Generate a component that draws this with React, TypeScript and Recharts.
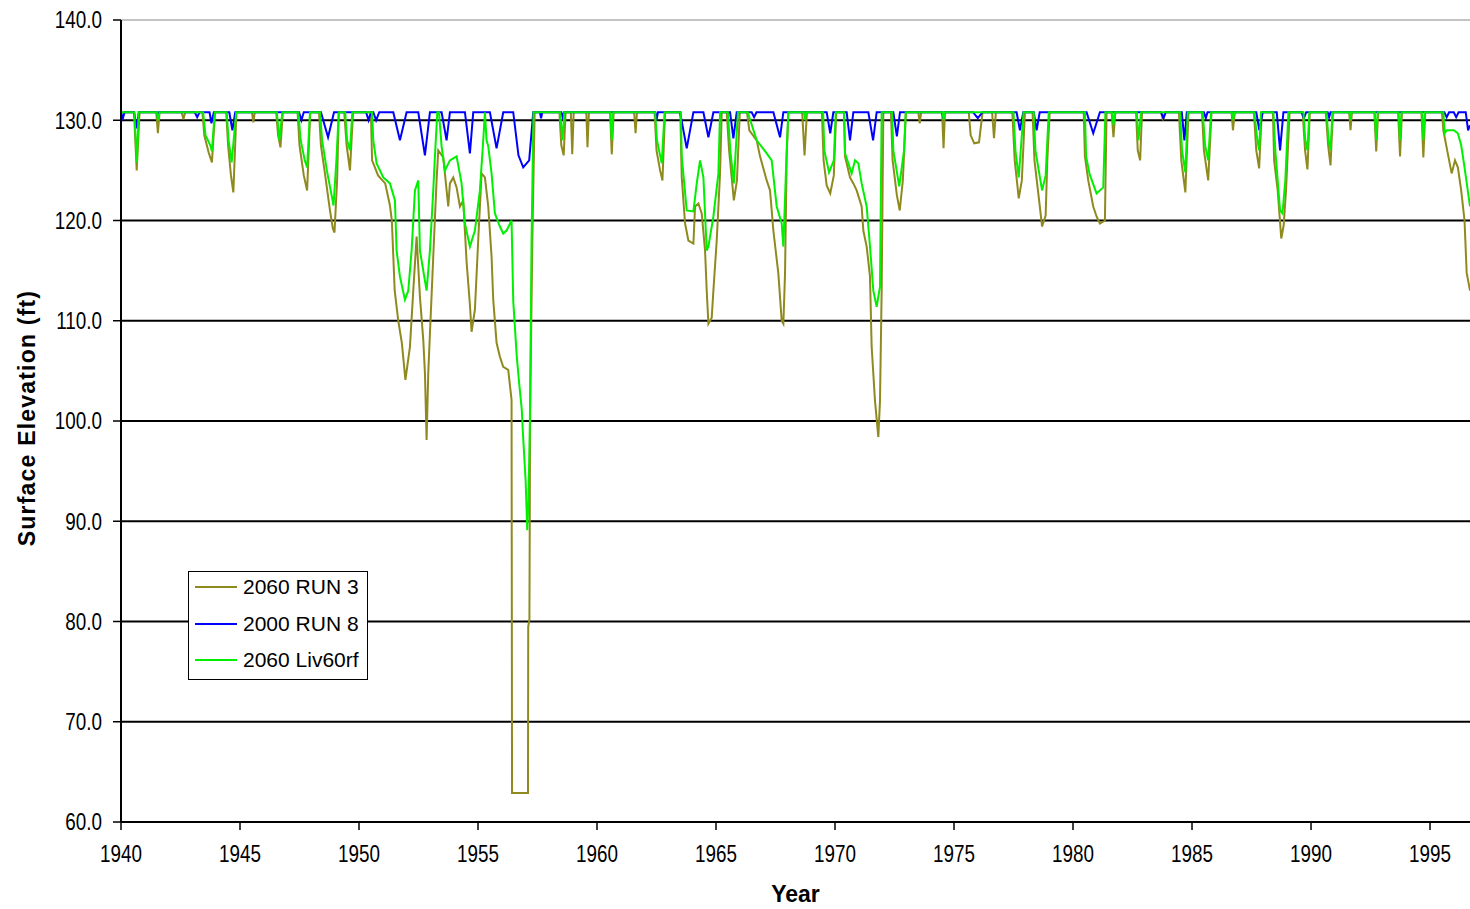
import React from "react";
import {
  CartesianGrid,
  Label,
  Legend,
  Line,
  LineChart,
  ReferenceLine,
  XAxis,
  YAxis,
} from "recharts";

// [year, surface elevation ft]
const run3: [number, number][] = [
  [1940.0, 130.8], [1940.55, 130.8], [1940.6, 128], [1940.66, 125.0], [1940.72, 128], [1940.78, 130.8],
  [1941.48, 130.8], [1941.55, 128.7], [1941.62, 130.8],
  [1942.55, 130.8], [1942.62, 130.1], [1942.7, 130.8],
  [1943.42, 130.8], [1943.5, 128.5], [1943.68, 126.8], [1943.82, 125.8], [1943.95, 130.8],
  [1944.42, 130.8], [1944.5, 127.5], [1944.62, 124.5], [1944.72, 122.8], [1944.85, 130.8],
  [1945.5, 130.8], [1945.56, 129.8], [1945.62, 130.8],
  [1946.52, 130.8], [1946.6, 128.5], [1946.7, 127.3], [1946.8, 130.8],
  [1947.42, 130.8], [1947.5, 127.5], [1947.68, 124.5], [1947.82, 123.0], [1947.95, 130.8],
  [1948.32, 130.8], [1948.4, 127.5], [1948.58, 124.5], [1948.78, 121], [1948.9, 119.2], [1948.97, 118.8], [1949.08, 124], [1949.15, 130.8],
  [1949.38, 130.8], [1949.48, 127.5], [1949.62, 125.0], [1949.75, 130.8],
  [1950.5, 130.8], [1950.55, 126.0], [1950.8, 124.5], [1951.1, 123.7], [1951.3, 121.5], [1951.38, 120],
  [1951.5, 113], [1951.65, 110], [1951.8, 107.8], [1951.95, 104.1], [1952.14, 107.4], [1952.28, 113],
  [1952.42, 118.4], [1952.56, 112.4], [1952.7, 108.1], [1952.77, 104.8], [1952.84, 98.1], [1952.91, 104.8],
  [1952.98, 108.7], [1953.12, 116.4], [1953.26, 124], [1953.33, 127], [1953.54, 126.3], [1953.75, 121.4],
  [1953.82, 123.7], [1953.96, 124.3], [1954.1, 123.3], [1954.24, 121.4], [1954.38, 122], [1954.52, 115.9],
  [1954.66, 111.6], [1954.73, 108.9], [1954.87, 111.1], [1955.01, 118.1], [1955.15, 124.7], [1955.29, 124.3],
  [1955.43, 121.4], [1955.57, 116.4], [1955.64, 112.1], [1955.78, 107.8], [1955.92, 106.4], [1956.06, 105.4],
  [1956.27, 105.1], [1956.41, 102.1], [1956.43, 62.9], [1957.1, 62.9], [1957.11, 79.5], [1957.16, 80.2],
  [1957.19, 100.8], [1957.28, 117.5], [1957.38, 130.8],
  [1958.42, 130.8], [1958.5, 127.5], [1958.6, 126.5], [1958.68, 130.8],
  [1958.9, 130.8], [1958.96, 126.6], [1959.02, 130.8],
  [1959.55, 130.8], [1959.6, 127.3], [1959.66, 130.8],
  [1960.55, 130.8], [1960.62, 126.6], [1960.7, 130.8],
  [1961.56, 130.8], [1961.62, 128.7], [1961.68, 130.8],
  [1962.42, 130.8], [1962.5, 127], [1962.65, 125], [1962.75, 124], [1962.86, 130.8],
  [1963.5, 130.8], [1963.56, 124.3], [1963.7, 119.7], [1963.84, 118], [1964.05, 117.7], [1964.12, 121.4],
  [1964.26, 121.7], [1964.4, 120.7], [1964.54, 117], [1964.61, 113], [1964.68, 109.7], [1964.82, 110.3],
  [1964.89, 113], [1965.03, 118], [1965.17, 124.7], [1965.24, 130.8],
  [1965.45, 130.8], [1965.55, 127], [1965.75, 122], [1965.88, 124], [1966.0, 130.8],
  [1966.3, 130.8], [1966.4, 129], [1966.71, 128], [1966.85, 126.4], [1967.13, 124], [1967.27, 123],
  [1967.41, 119], [1967.62, 114.7], [1967.76, 110], [1967.83, 109.7], [1967.9, 114.7], [1967.97, 126.4], [1968.04, 130.8],
  [1968.62, 130.8], [1968.72, 126.5], [1968.82, 130.8],
  [1969.45, 130.8], [1969.52, 126], [1969.65, 123.5], [1969.8, 122.7], [1969.95, 124.5], [1970.05, 130.8],
  [1970.38, 130.8], [1970.42, 126.4], [1970.63, 124.3], [1970.77, 123.7], [1970.91, 123], [1971.12, 121.4],
  [1971.19, 119], [1971.33, 117.4], [1971.47, 114.4], [1971.54, 107.4], [1971.68, 102], [1971.82, 98.4],
  [1971.89, 102], [1971.96, 113], [1972.03, 130.8],
  [1972.35, 130.8], [1972.42, 126], [1972.6, 122.5], [1972.72, 121], [1972.85, 124], [1972.98, 130.8],
  [1973.5, 130.8], [1973.56, 129.7], [1973.62, 130.8],
  [1974.5, 130.8], [1974.56, 127.2], [1974.62, 130.8],
  [1975.62, 130.8], [1975.7, 128.5], [1975.85, 127.7], [1976.05, 127.8], [1976.2, 130.8],
  [1976.6, 130.8], [1976.68, 128.2], [1976.76, 130.8],
  [1977.45, 130.8], [1977.55, 126], [1977.72, 122.2], [1977.85, 124], [1977.98, 130.8],
  [1978.3, 130.8], [1978.38, 126], [1978.6, 121.5], [1978.7, 119.4], [1978.85, 120.5], [1978.92, 126], [1979.02, 130.8],
  [1980.45, 130.8], [1980.5, 126.4], [1980.64, 124], [1980.85, 121.4], [1980.99, 120.4], [1981.13, 119.7], [1981.34, 120], [1981.41, 130.8],
  [1981.62, 130.8], [1981.7, 128.3], [1981.78, 130.8],
  [1982.65, 130.8], [1982.72, 127], [1982.82, 126], [1982.9, 130.8],
  [1983.7, 130.8], [1983.78, 130], [1983.86, 130.8],
  [1984.45, 130.8], [1984.55, 126], [1984.72, 122.8], [1984.85, 130.8],
  [1985.42, 130.8], [1985.5, 127], [1985.68, 124], [1985.82, 130.8],
  [1986.66, 130.8], [1986.72, 129], [1986.8, 130.8],
  [1987.6, 130.8], [1987.7, 127], [1987.82, 125.2], [1987.93, 130.8],
  [1988.4, 130.8], [1988.45, 126], [1988.6, 123], [1988.75, 118.2], [1988.85, 119.5], [1988.95, 123], [1989.1, 130.8],
  [1989.65, 130.8], [1989.75, 127], [1989.85, 125.1], [1989.95, 130.8],
  [1990.62, 130.8], [1990.72, 127.5], [1990.82, 125.5], [1990.92, 130.8],
  [1991.6, 130.8], [1991.66, 129], [1991.72, 130.8],
  [1992.66, 130.8], [1992.74, 126.9], [1992.82, 130.8],
  [1993.66, 130.8], [1993.74, 126.4], [1993.82, 130.8],
  [1994.64, 130.8], [1994.72, 126.3], [1994.8, 130.8],
  [1995.5, 130.8], [1995.56, 129], [1995.77, 126.4], [1995.91, 124.7], [1996.05, 126], [1996.17, 125.3],
  [1996.31, 123], [1996.45, 120], [1996.54, 114.8], [1996.68, 113],
];

const run8: [number, number][] = [
  [1940.0, 130.8], [1940.08, 130.2], [1940.15, 130.8], [1940.55, 130.8], [1940.65, 129.2], [1940.75, 130.8],
  [1941.5, 130.8], [1941.55, 130.3], [1941.6, 130.8],
  [1943.1, 130.8], [1943.2, 130.3], [1943.3, 130.8],
  [1943.72, 130.8], [1943.8, 129.7], [1943.9, 130.8],
  [1944.55, 130.8], [1944.68, 129], [1944.8, 130.8],
  [1947.48, 130.8], [1947.58, 130], [1947.68, 130.8],
  [1948.4, 130.8], [1948.7, 128.3], [1948.95, 130.8],
  [1950.3, 130.8], [1950.4, 130], [1950.5, 130.8],
  [1950.6, 130.8], [1950.72, 130], [1950.85, 130.8],
  [1951.44, 130.8], [1951.72, 128], [1952.0, 130.8],
  [1952.49, 130.8], [1952.77, 126.5], [1952.98, 130.8],
  [1953.47, 130.8], [1953.68, 128], [1953.82, 130.8],
  [1954.45, 130.8], [1954.66, 126.7], [1954.8, 130.8],
  [1955.5, 130.8], [1955.78, 127.2], [1956.06, 130.8],
  [1956.48, 130.8], [1956.7, 126.5], [1956.9, 125.3], [1957.15, 126], [1957.32, 130.8],
  [1957.6, 130.8], [1957.65, 130.2], [1957.7, 130.8],
  [1958.5, 130.8], [1958.56, 130.3], [1958.62, 130.8],
  [1962.45, 130.8], [1962.5, 130], [1962.56, 130.8],
  [1963.49, 130.8], [1963.77, 127.2], [1964.05, 130.8],
  [1964.47, 130.8], [1964.68, 128.3], [1964.89, 130.8],
  [1965.59, 130.8], [1965.73, 128.2], [1965.87, 130.8],
  [1966.5, 130.8], [1966.6, 130.3], [1966.7, 130.8],
  [1967.41, 130.8], [1967.69, 128.3], [1967.83, 130.8],
  [1969.65, 130.8], [1969.8, 128.7], [1969.93, 130.8],
  [1970.49, 130.8], [1970.63, 128], [1970.77, 130.8],
  [1971.4, 130.8], [1971.6, 128], [1971.75, 130.8],
  [1972.45, 130.8], [1972.6, 128.4], [1972.73, 130.8],
  [1974.5, 130.8], [1974.55, 130.2], [1974.6, 130.8],
  [1975.8, 130.8], [1976.0, 130.2], [1976.2, 130.8],
  [1977.63, 130.8], [1977.77, 129], [1977.91, 130.8],
  [1978.35, 130.8], [1978.47, 129], [1978.6, 130.8],
  [1980.57, 130.8], [1980.85, 128.7], [1981.13, 130.8],
  [1983.7, 130.8], [1983.8, 130.2], [1983.9, 130.8],
  [1984.57, 130.8], [1984.68, 128], [1984.78, 130.8],
  [1985.5, 130.8], [1985.58, 130.2], [1985.65, 130.8],
  [1987.7, 130.8], [1987.83, 129], [1987.97, 130.8],
  [1988.56, 130.8], [1988.7, 127], [1988.84, 130.8],
  [1989.6, 130.8], [1989.7, 130.2], [1989.8, 130.8],
  [1990.7, 130.8], [1990.76, 130.3], [1990.82, 130.8],
  [1995.6, 130.8], [1995.7, 130.3], [1995.8, 130.8],
  [1996.0, 130.8], [1996.1, 130.3], [1996.2, 130.8],
  [1996.5, 130.8], [1996.6, 129], [1996.68, 129.5],
];

const liv60rf: [number, number][] = [
  [1940.0, 130.8], [1940.56, 130.8], [1940.62, 128], [1940.67, 125.8], [1940.74, 130.8],
  [1941.5, 130.8], [1941.56, 130], [1941.62, 130.8],
  [1943.45, 130.8], [1943.55, 128.5], [1943.75, 127.5], [1943.82, 126.9], [1943.94, 130.8],
  [1944.44, 130.8], [1944.52, 128], [1944.65, 125.8], [1944.84, 130.8],
  [1946.55, 130.8], [1946.65, 128], [1946.78, 130.8],
  [1947.45, 130.8], [1947.55, 128], [1947.72, 126], [1947.82, 125.3], [1947.94, 130.8],
  [1948.36, 130.8], [1948.45, 128], [1948.65, 125], [1948.85, 122.5], [1948.93, 121.5], [1949.05, 126], [1949.15, 130.8],
  [1949.42, 130.8], [1949.5, 128], [1949.62, 127], [1949.72, 130.8],
  [1950.55, 130.8], [1950.6, 128], [1950.74, 125.7], [1951.02, 124.3], [1951.3, 123.7], [1951.51, 122],
  [1951.58, 117], [1951.72, 114.4], [1951.93, 112.1], [1952.07, 113], [1952.21, 117], [1952.35, 123],
  [1952.49, 124], [1952.56, 117], [1952.84, 113], [1952.98, 117], [1953.12, 123], [1953.19, 126.4],
  [1953.29, 130.8], [1953.36, 130.8], [1953.47, 127.4], [1953.61, 125], [1953.82, 126], [1954.1, 126.4],
  [1954.31, 123.7], [1954.45, 119.7], [1954.66, 117.4], [1954.87, 119], [1955.08, 123], [1955.22, 128],
  [1955.29, 130.8], [1955.36, 128], [1955.43, 127.4], [1955.57, 124.7], [1955.71, 120.7], [1955.92, 119.4],
  [1956.06, 118.7], [1956.2, 119], [1956.41, 120], [1956.48, 112], [1956.63, 106.4], [1956.72, 104],
  [1956.84, 101.1], [1956.88, 99.1], [1957.0, 94.1], [1957.07, 89.1], [1957.12, 92], [1957.18, 100],
  [1957.25, 118], [1957.33, 130.8],
  [1958.45, 130.8], [1958.55, 128], [1958.63, 130.8],
  [1960.56, 130.8], [1960.62, 128], [1960.68, 130.8],
  [1962.44, 130.8], [1962.52, 128], [1962.72, 125.7], [1962.84, 130.8],
  [1963.52, 130.8], [1963.56, 126.4], [1963.77, 121], [1964.05, 120.9], [1964.19, 123.7], [1964.33, 126],
  [1964.47, 124.3], [1964.61, 117], [1964.68, 117.4], [1964.89, 120.4], [1965.1, 124.7], [1965.17, 130.8],
  [1965.5, 130.8], [1965.6, 127], [1965.75, 123.7], [1965.92, 130.8],
  [1966.34, 130.8], [1966.4, 130.3], [1966.71, 128], [1967.13, 126.7], [1967.34, 126], [1967.55, 121.4],
  [1967.76, 119.7], [1967.83, 117.4], [1967.97, 127], [1968.04, 130.8],
  [1968.7, 130.8], [1968.74, 130], [1968.8, 130.8],
  [1969.5, 130.8], [1969.55, 127], [1969.75, 124.8], [1969.95, 126], [1970.03, 130.8],
  [1970.38, 130.8], [1970.42, 126.7], [1970.7, 124.7], [1970.84, 126], [1970.98, 125.7], [1971.12, 123.7],
  [1971.33, 121.4], [1971.47, 117.4], [1971.61, 113], [1971.75, 111.4], [1971.89, 113.4], [1971.96, 130.8],
  [1972.4, 130.8], [1972.45, 127], [1972.7, 123.4], [1972.9, 127], [1972.97, 130.8],
  [1974.52, 130.8], [1974.56, 130], [1974.6, 130.8],
  [1977.5, 130.8], [1977.58, 127], [1977.72, 124.3], [1977.92, 130.8],
  [1978.35, 130.8], [1978.42, 127], [1978.7, 123], [1978.85, 124.5], [1978.98, 130.8],
  [1980.5, 130.8], [1980.55, 126.4], [1980.7, 124.6], [1980.99, 122.7], [1981.27, 123.3], [1981.36, 130.8],
  [1981.64, 130.8], [1981.7, 129.5], [1981.76, 130.8],
  [1982.68, 130.8], [1982.75, 128], [1982.86, 130.8],
  [1984.5, 130.8], [1984.58, 127], [1984.72, 124.8], [1984.82, 130.8],
  [1985.45, 130.8], [1985.55, 127.5], [1985.68, 126], [1985.8, 130.8],
  [1986.68, 130.8], [1986.72, 130], [1986.78, 130.8],
  [1987.62, 130.8], [1987.72, 128.5], [1987.82, 127], [1987.9, 130.8],
  [1988.42, 130.8], [1988.5, 127], [1988.7, 121], [1988.8, 120.7], [1988.92, 124], [1989.05, 130.8],
  [1989.68, 130.8], [1989.76, 128], [1989.85, 127], [1989.93, 130.8],
  [1990.65, 130.8], [1990.74, 128], [1990.82, 127], [1990.9, 130.8],
  [1991.62, 130.8], [1991.66, 130], [1991.7, 130.8],
  [1992.68, 130.8], [1992.74, 128], [1992.8, 130.8],
  [1993.68, 130.8], [1993.74, 128], [1993.8, 130.8],
  [1994.66, 130.8], [1994.72, 128], [1994.78, 130.8],
  [1995.56, 130.8], [1995.62, 128.7], [1995.7, 129], [1996.0, 129], [1996.17, 128.7], [1996.31, 127.5],
  [1996.45, 125.3], [1996.68, 121.4],
];

const yearTicks = [1940, 1945, 1950, 1955, 1960, 1965, 1970, 1975, 1980, 1985, 1990, 1995];
const elevTicks = [60, 70, 80, 90, 100, 110, 120, 130, 140];
const gridValues = [70, 80, 90, 100, 110, 120, 130];

const series = [
  { name: "2060 RUN 3", color: "#8f8a1e", points: run3 },
  { name: "2000 RUN 8", color: "#0000ff", points: run8 },
  { name: "2060 Liv60rf", color: "#00f000", points: liv60rf },
];

const FONT = "Arial, 'Liberation Sans', sans-serif";

const toRows = (pts: [number, number][]) => pts.map(([year, elev]) => ({ year, elev }));

// the original tick labels are a narrow face; squeeze Arial horizontally
function NarrowTick({ x, y, payload, anchor, dy, fmt }: any) {
  return (
    <g transform={`translate(${x},${y})`}>
      <text
        transform="scale(0.82,1)"
        textAnchor={anchor}
        dy={dy}
        fill="#000"
        style={{ fontSize: 23, fontFamily: FONT }}
      >
        {fmt(payload.value)}
      </text>
    </g>
  );
}

function LegendBox() {
  return (
    <div
      style={{
        position: "relative",
        width: 180,
        height: 109,
        border: "1.5px solid #000",
        background: "#fff",
        boxSizing: "border-box",
        overflow: "hidden",
        fontFamily: FONT,
        fontSize: 21,
        color: "#000",
      }}
    >
      {series.map((s, i) => (
        <div
          key={s.name}
          style={{
            position: "absolute",
            left: 0,
            top: 3 + i * 36.5,
            height: 24,
            display: "flex",
            alignItems: "center",
            whiteSpace: "nowrap",
          }}
        >
          <span style={{ display: "inline-block", marginLeft: 6, width: 42, height: 2, background: s.color }} />
          <span style={{ marginLeft: 6 }}>{s.name}</span>
        </div>
      ))}
    </div>
  );
}

export default function App() {
  return (
    <div style={{ position: "absolute", left: 0, top: 0, background: "#fff" }}>
      <LineChart width={1470} height={909} margin={{ top: 20, right: 0, left: 0, bottom: 0 }}>
        <CartesianGrid horizontal vertical={false} horizontalValues={gridValues} stroke="#000" strokeWidth={2} />
        <ReferenceLine y={140} stroke="#888" strokeWidth={1} />
        <XAxis
          type="number"
          dataKey="year"
          domain={[1940, 1996.68]}
          ticks={yearTicks}
          allowDataOverflow
          height={87}
          tickSize={8}
          tickMargin={16}
          axisLine={{ stroke: "#000", strokeWidth: 2 }}
          tickLine={{ stroke: "#000", strokeWidth: 1.5 }}
          tick={(p: any) => <NarrowTick {...p} anchor="middle" dy="0.71em" fmt={(v: number) => String(v)} />}
        >
          <Label
            value="Year"
            position="insideBottom"
            offset={7}
            style={{ fill: "#000", fontSize: 23, fontWeight: "bold", fontFamily: FONT }}
          />
        </XAxis>
        <YAxis
          type="number"
          domain={[60, 140]}
          ticks={elevTicks}
          allowDataOverflow
          width={121}
          tickSize={8}
          tickMargin={11}
          axisLine={{ stroke: "#000", strokeWidth: 2 }}
          tickLine={{ stroke: "#000", strokeWidth: 1.5 }}
          tick={(p: any) => <NarrowTick {...p} anchor="end" dy="0.36em" fmt={(v: number) => v.toFixed(1)} />}
        >
          <Label
            content={({ viewBox }: any) => {
              const cx = (viewBox?.x ?? 0) + 27;
              const cy = (viewBox?.y ?? 0) + (viewBox?.height ?? 0) / 2 - 3;
              return (
                <text
                  x={cx}
                  y={cy}
                  transform={`rotate(-90 ${cx} ${cy})`}
                  textAnchor="middle"
                  dominantBaseline="central"
                  style={{ fill: "#000", fontSize: 23, fontWeight: "bold", fontFamily: FONT, letterSpacing: 1.2 }}
                >
                  Surface Elevation (ft)
                </text>
              );
            }}
          />
        </YAxis>
        {series.map((s) => (
          <Line
            key={s.name}
            data={toRows(s.points)}
            dataKey="elev"
            name={s.name}
            type="linear"
            stroke={s.color}
            strokeWidth={2}
            dot={false}
            activeDot={false}
            isAnimationActive={false}
          />
        ))}
        <Legend
          layout="vertical"
          align="center"
          verticalAlign="middle"
          content={() => <LegendBox />}
          wrapperStyle={{ left: 188, top: 571, width: 180, height: 109 }}
        />
      </LineChart>
    </div>
  );
}
